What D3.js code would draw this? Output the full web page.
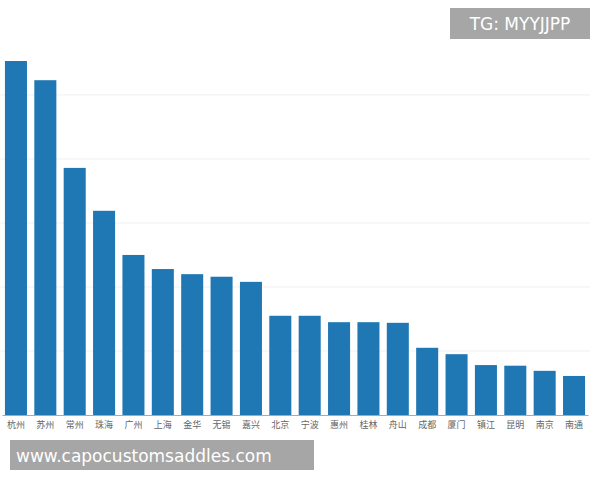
<!DOCTYPE html>
<html><head><meta charset="utf-8">
<script src="https://cdn.jsdelivr.net/npm/d3@7"></script>
<style>body{margin:0;background:#fff}</style>
</head><body><svg id="c" width="600" height="480"></svg>
<script>
const cities = ['杭州','苏州','常州','珠海','广州','上海','金华','无锡','嘉兴','北京','宁波','惠州','桂林','舟山','成都','厦门','镇江','昆明','南京','南通'];
const values = [5.53,5.23,3.86,3.19,2.5,2.28,2.2,2.16,2.08,1.55,1.55,1.45,1.45,1.44,1.05,0.95,0.78,0.77,0.69,0.61];
const gridTicks = [1,2,3,4,5];

const svg = d3.select('#c');
const x = d3.scaleBand().domain(cities).range([2, 588]).paddingInner(0.25).paddingOuter(0.1);
const y = d3.scaleLinear().domain([0, 5.53]).range([415, 61]);

svg.append('g').selectAll('line').data(gridTicks).join('line')
  .attr('x1', 0).attr('x2', 590)
  .attr('y1', d => y(d)).attr('y2', d => y(d))
  .attr('stroke', '#f0f0f0');

svg.append('g').selectAll('rect').data(values).join('rect')
  .attr('x', (d, i) => x(cities[i])).attr('width', x.bandwidth())
  .attr('y', d => y(d)).attr('height', d => y(0) - y(d))
  .attr('fill', '#1f77b4');

const ax = svg.append('g').attr('transform', 'translate(0,415)')
  .call(d3.axisBottom(x).tickSize(0).tickPadding(7));
ax.select('.domain').attr('stroke', '#aaa');
ax.selectAll('text').attr('font-size', 9).attr('fill', '#666')
  .attr('font-family', 'Noto Sans CJK SC');

svg.append('rect').attr('x', 450).attr('y', 8).attr('width', 140).attr('height', 31).attr('fill', '#a6a6a6');
svg.append('text').attr('x', 520).attr('y', 30).attr('text-anchor', 'middle')
  .attr('fill', '#fff').attr('font-size', 17).attr('font-family', 'DejaVu Sans').text('TG: MYYJJPP');
svg.append('rect').attr('x', 10).attr('y', 440).attr('width', 304).attr('height', 30).attr('fill', '#a6a6a6');
svg.append('text').attr('x', 16).attr('y', 462)
  .attr('fill', '#fff').attr('font-size', 17).attr('font-family', 'DejaVu Sans').text('www.capocustomsaddles.com');
</script></body></html>
